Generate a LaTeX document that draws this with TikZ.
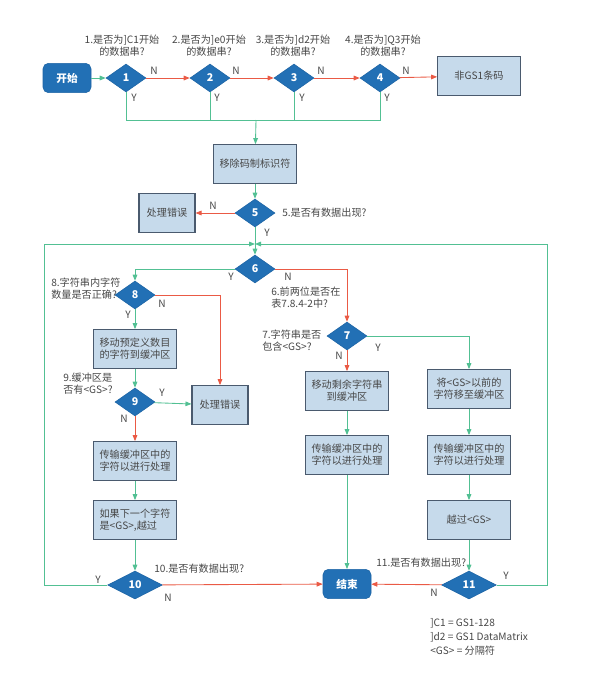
\documentclass[tikz,border=0pt]{standalone}
\usepackage{fontspec}
\setmainfont{Noto Sans CJK SC}
\usetikzlibrary{shapes.geometric,arrows.meta}
\definecolor{dblue}{HTML}{2270B5}
\definecolor{dborder}{HTML}{1D64A4}
\definecolor{boxfill}{HTML}{C6DAEB}
\definecolor{boxline}{HTML}{4A5A6E}
\definecolor{gline}{HTML}{52C093}
\definecolor{rline}{HTML}{EA5A45}
\definecolor{txt}{HTML}{474747}
\begin{document}
\begin{tikzpicture}[x=0.75pt,y=-0.75pt,
  font=\fontsize{7.6}{9}\selectfont, text=txt,
  box/.style={draw=boxline, fill=boxfill, line width=0.8pt, minimum width=62pt, minimum height=29pt, align=center, inner sep=1pt},
  sbox/.style={box, minimum width=42pt},
  term/.style={draw=dborder, fill=dblue, rounded corners=4pt, minimum width=36pt, minimum height=22pt, text=white, font=\fontsize{8}{9}\selectfont\bfseries},
  dia/.style={diamond, draw=dborder, fill=dblue, inner sep=0pt, minimum width=30pt, minimum height=21pt, text=white, font=\fontsize{8}{9}\selectfont\bfseries},
  wdia/.style={dia, minimum width=41pt},
  g/.style={draw=gline, line width=0.65pt},
  r/.style={draw=rline, line width=0.65pt},
  ga/.style={g, -{Triangle[length=4.5pt,width=3.5pt]}},
  ra/.style={r, -{Triangle[length=4.5pt,width=3.5pt]}},
  lab/.style={inner sep=0pt},
  q/.style={inner sep=0pt, align=center}]
\useasboundingbox (0,0) rectangle (591,690);

% nodes
\node[term] (start) at (67,78) {开始};
\node[dia] (d1) at (126,78) {1};
\node[dia] (d2) at (210,78) {2};
\node[dia] (d3) at (294,78) {3};
\node[dia] (d4) at (380,78) {4};
\node[box] (nongs) at (479,76) {非GS1条码};
\node[box] (rm) at (255,164) {移除码制标识符};
\node[dia] (d5) at (255,213) {5};
\node[sbox] (err1) at (167,213) {处理错误};
\node[dia] (d6) at (255,269) {6};
\node[dia] (d8) at (135,295) {8};
\node[box] (mv1) at (135,349) {移动预定义数目\\的字符到缓冲区};
\node[dia] (d9) at (135,402) {9};
\node[sbox] (err2) at (220,405) {处理错误};
\node[dia] (d7) at (347,336) {7};
\node[box] (mv2) at (347,391) {移动剩余字符串\\到缓冲区};
\node[box] (mv3) at (469,389) {将<GS>以前的\\字符移至缓冲区};
\node[box] (tx1) at (135,461) {传输缓冲区中的\\字符以进行处理};
\node[box, align=left] (skip1) at (135,520) {如果下一个字符\\是<GS>,越过};
\node[wdia] (d10) at (135,585) {10};
\node[box] (tx2) at (347,455) {传输缓冲区中的\\字符以进行处理};
\node[box] (tx3) at (469,455) {传输缓冲区中的\\字符以进行处理};
\node[box] (skipgs) at (469,520) {越过<GS>};
\node[term] (end) at (347,584) {结束};
\node[wdia] (d11) at (469,585) {11};

% question labels
\node[q] (q1) at (122,46) {1.是否为]C1开始\\的数据串?};
\node[q] (q2) at (209,46) {2.是否为]e0开始\\的数据串?};
\node[q] (q3) at (293,46) {3.是否为]d2开始\\的数据串?};
\node[q] (q4) at (383,46) {4.是否为]Q3开始\\的数据串?};
\node[q, anchor=west] (q5) at (282,213) {5.是否有数据出现?};
\node[q, anchor=west, align=left] (q6) at (271,298) {6.前两位是否在\\表7.8.4-2中?};
\node[q, anchor=west, align=left] (q7) at (262,341) {7.字符串是否\\包含<GS>?};
\node[q, anchor=west, align=left] (q8) at (51,289) {8.字符串内字符\\数量是否正确?};
\node[q, anchor=west, align=left] (q9) at (63,384) {9.缓冲区是\\否有<GS>?};
\node[q, anchor=west] (q10) at (154,569) {10.是否有数据出现?};
\node[q, anchor=west] (q11) at (376,563) {11.是否有数据出现?};
\node[q, anchor=north west, align=left, font=\fontsize{7.6}{10.5}\selectfont] (legend) at (430,618) {]C1 = GS1-128\\]d2 = GS1 DataMatrix\\<GS> = 分隔符};

% coordinates
\coordinate (j1) at (256,120);
\coordinate (j2) at (255,244);
\coordinate (lp) at (44,244);
\coordinate (rp) at (547,244);

% top row
\draw[ga] (start) -- (d1);
\draw[ra] (d1) -- (d2);
\draw[ra] (d2) -- (d3);
\draw[ra] (d3) -- (d4);
\draw[ra] (d4) -- (nongs);
\draw[g] (d1.south) |- (j1);
\draw[g] (d4.south) |- (j1);
\draw[g] (d2.south) -- (d2.south |- j1);
\draw[g] (d3.south) -- (d3.south |- j1);
\draw[ga] (j1) -- (rm);
\draw[ga] (rm) -- (d5);
\draw[ra] (d5) -- (err1);
\draw[ga] (d5) -- (d6);

% loops
\draw[ga] (d10.west) -| (lp) -- (j2);
\draw[ga] (d11.east) -| (rp) -- (j2);

% left branch
\draw[ga] (d6.west) -| (d8.north);
\draw[ra] (d8.east) -| (err2.north);
\draw[ga] (d8) -- (mv1);
\draw[ga] (mv1) -- (d9);
\draw[ga] (d9) -- (err2);
\draw[ra] (d9) -- (tx1);
\draw[ga] (tx1) -- (skip1);
\draw[ga] (skip1) -- (d10);
\draw[ra] (d10) -- (end);

% right branch
\draw[ra] (d6.east) -| (d7.north);
\draw[ra] (d7) -- (mv2);
\draw[ga] (d7.east) -| (mv3.north);
\draw[ga] (mv2) -- (tx2);
\draw[ga] (tx2) -- (end);
\draw[ga] (mv3) -- (tx3);
\draw[ga] (tx3) -- (skipgs);
\draw[ga] (skipgs) -- (d11);
\draw[ra] (d11) -- (end);

% Y/N labels
\node[lab] (n1) at (154,71) {N};
\node[lab] (n2) at (236,71) {N};
\node[lab] (n3) at (321,71) {N};
\node[lab] (n4) at (406,71) {N};
\node[lab] (y1) at (134,98) {Y};
\node[lab] (y2) at (217,98) {Y};
\node[lab] (y3) at (302,98) {Y};
\node[lab] (y4) at (387,98) {Y};
\node[lab] (n5) at (213,206) {N};
\node[lab] (y5) at (267,233) {Y};
\node[lab] (y6) at (231,277) {Y};
\node[lab] (n6) at (288,277) {N};
\node[lab] (n8) at (162,304) {N};
\node[lab] (y8) at (128,315) {Y};
\node[lab] (y9) at (162,393) {Y};
\node[lab] (n9) at (124,419) {N};
\node[lab] (n7) at (339,356) {N};
\node[lab] (y7) at (378,348) {Y};
\node[lab] (y10) at (98,580) {Y};
\node[lab] (n10) at (168,598) {N};
\node[lab] (y11) at (506,576) {Y};
\node[lab] (n11) at (434,593) {N};
\end{tikzpicture}
\end{document}
